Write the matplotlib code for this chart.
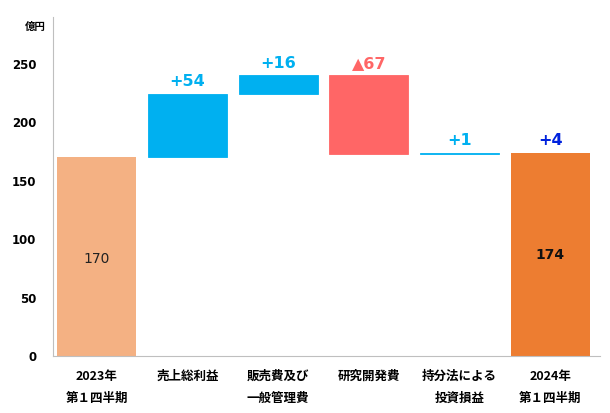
import matplotlib
matplotlib.use("Agg")
import matplotlib.pyplot as plt

plt.rcParams['font.family'] = ['Noto Sans CJK JP', 'DejaVu Sans']
num_font = ['DejaVu Sans']

# data (億円)
categories = ["2023年\n第１四半期", "売上総利益", "販売費及び\n一般管理費", "研究開発費",
              "持分法による\n投資損益", "2024年\n第１四半期"]
start_value = 170
changes = [54, 16, -67, 1]
end_value = 174
change_labels = ["+54", "+16", "▲67", "+1"]
end_label = "+4"

col_start = '#F4B183'
col_up = '#00B0F0'
col_down = '#FF6666'
col_end = '#ED7D31'

fig = plt.figure(figsize=(6.1, 4.13), dpi=100)
ax = fig.add_axes([0.087, 0.138, 0.897, 0.821])

w = 0.87
# first total bar
ax.bar(0, start_value, width=w, color=col_start)
ax.text(0, start_value / 2 - 2, str(start_value), ha='center', va='center', fontsize=10,
        color='#222222', family=num_font)

# waterfall steps
level = start_value
for i, (d, lab) in enumerate(zip(changes, change_labels), start=1):
    bottom = level if d >= 0 else level + d
    c = col_up if d >= 0 else col_down
    ax.bar(i, abs(d), bottom=bottom, width=w, color=c, edgecolor=c, linewidth=0.6)
    top = max(level, level + d)
    ax.text(i, top + 4, lab, ha='center', va='bottom', fontsize=11.5, fontweight='bold',
            color=c, family=num_font)
    level += d

# last total bar
n = len(categories) - 1
ax.bar(n, end_value, width=w, color=col_end)
ax.text(n, end_value / 2 - 1, str(end_value), ha='center', va='center', fontsize=10,
        fontweight='bold', color='#111111', family=num_font)
ax.text(n, end_value + 4, end_label, ha='center', va='bottom', fontsize=11.5,
        fontweight='bold', color='#0022DD', family=num_font)

ax.set_xlim(-0.48, 5.55)
ax.set_ylim(0, 290)
ax.set_yticks([0, 50, 100, 150, 200, 250])
ax.set_xticks(range(len(categories)))
ax.set_xticklabels(categories, fontsize=9, fontweight='bold', linespacing=1.9)
for t in ax.get_yticklabels():
    t.set_fontweight('bold')
    t.set_fontsize(8.5)
    t.set_family(num_font)
ax.tick_params(axis='both', length=0)
ax.tick_params(axis='y', pad=12)
ax.tick_params(axis='x', pad=10)

for s in ['top', 'right']:
    ax.spines[s].set_visible(False)
ax.spines['left'].set_color('#BFBFBF')
ax.spines['bottom'].set_color('#BFBFBF')

fig.text(0.058, 0.935, "億円", fontsize=7.5, fontweight='bold', ha='center', va='center')

plt.savefig('out.png', dpi=100)
